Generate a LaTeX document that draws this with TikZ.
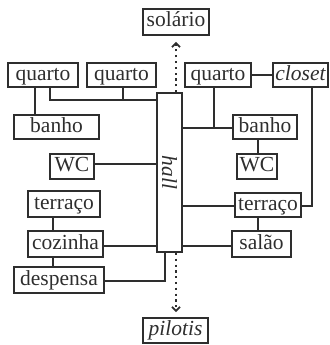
\documentclass[tikz,border=0pt]{standalone}
\usepackage{fontspec}
\setmainfont{Liberation Serif}
\usetikzlibrary{arrows.meta}
\definecolor{ink}{HTML}{2E2E2E}
\tikzset{
  box/.style={draw=ink, line width=1.8pt, inner sep=0pt, minimum height=24pt, text=ink,
    font=\fontsize{21.5pt}{24pt}\selectfont, text height=14.5pt, text depth=4.5pt},
  wire/.style={draw=ink, line width=1.8pt},
  dotarrow/.style={draw=ink, line width=2.4pt, dash pattern=on 2.2pt off 3.6pt,
    -{Straight Barb[length=4pt,width=8pt,line width=1.8pt]}}
}
\begin{document}
\begin{tikzpicture}[x=1pt,y=-1pt]
\useasboundingbox (0,0) rectangle (329,345);
% nodes
\node[box, minimum width=66pt, minimum height=26pt] (solario) at (176,22) {solário};
\node[box, minimum width=70pt] (q1) at (43,75) {quarto};
\node[box, minimum width=69pt] (q2) at (121.5,75) {quarto};
\node[box, minimum width=66pt] (qR) at (218,75) {quarto};
\node[box, minimum width=55pt, font=\fontsize{21.5pt}{24pt}\selectfont\itshape] (closet) at (300.5,75) {closet};
\node[box, minimum width=85pt] (banhoL) at (56.5,127) {banho};
\node[box, minimum width=64pt] (banhoR) at (265,127) {banho};
\node[box, minimum width=44pt, minimum height=25pt] (WCL) at (72,166.5) {WC};
\node[box, minimum width=40pt, minimum height=25pt] (WCR) at (257,166.5) {WC};
\node[box, minimum width=72pt, minimum height=26pt] (terL) at (64,204) {terraço};
\node[box, minimum width=66pt] (terR) at (268,205) {terraço};
\node[box, minimum width=75pt, minimum height=26pt] (coz) at (65.5,244) {cozinha};
\node[box, minimum width=59pt, minimum height=26pt] (salao) at (261.5,244) {salão};
\node[box, minimum width=90pt, minimum height=26pt] (desp) at (59,280) {despensa};
\node[box, minimum width=25pt, minimum height=159pt,
  label={[rotate=-90, text=ink, font=\fontsize{21.5pt}{24pt}\selectfont\itshape]center:hall}] (hall) at (169.5,172.5) {};
\node[box, minimum width=65pt, minimum height=25pt, font=\fontsize{21.5pt}{24pt}\selectfont\itshape] (pilotis) at (175.5,330.5) {pilotis};
% helper coordinates
\coordinate (a1) at (50,100);
\coordinate (a2) at (123,100);
\coordinate (b1) at (35,0);
\coordinate (v1) at (53,0);
\coordinate (d1) at (165,0);
\coordinate (e1) at (176,0);
\coordinate (f1) at (214,128);
\coordinate (g1) at (258,0);
\coordinate (h1) at (312,0);
\coordinate (y1) at (0,164);
\coordinate (y2) at (0,246);
\coordinate (y3) at (0,206);
\coordinate (y4) at (0,281);
% left connectors
\draw[wire] (q1.south -| a1) |- (hall.west |- a1);
\draw[wire] (q2.south -| a2) -- (a2);
\draw[wire] (q1.south -| b1) -- (banhoL.north -| b1);
\draw[wire] (WCL.east |- y1) -- (hall.west |- y1);
\draw[wire] (terL.south -| v1) -- (coz.north -| v1);
\draw[wire] (coz.south -| v1) -- (desp.north -| v1);
\draw[wire] (coz.east |- y2) -- (hall.west |- y2);
\draw[wire] (desp.east |- y4) -| (hall.south -| d1);
% right connectors
\draw[wire] (qR.east) -- (closet.west);
\draw[wire] (qR.south -| f1) -- (f1);
\draw[wire] (hall.east |- f1) -- (banhoR.west |- f1);
\draw[wire] (banhoR.south -| g1) -- (WCR.north -| g1);
\draw[wire] (closet.south -| h1) |- (terR.east |- y3);
\draw[wire] (hall.east |- y3) -- (terR.west |- y3);
\draw[wire] (terR.south -| g1) -- (salao.north -| g1);
\draw[wire] (hall.east |- y2) -- (salao.west |- y2);
% dotted arrows
\draw[dotarrow, shorten >=6pt] (hall.north -| e1) -- (solario.south -| e1);
\draw[dotarrow, shorten >=5pt] (hall.south -| e1) -- (pilotis.north -| e1);
\end{tikzpicture}
\end{document}
